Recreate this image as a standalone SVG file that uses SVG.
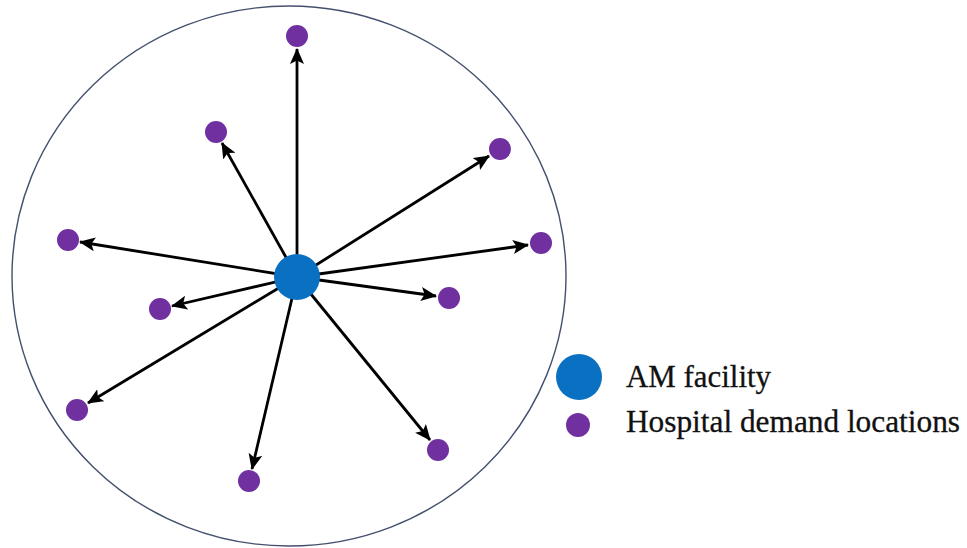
<svg xmlns="http://www.w3.org/2000/svg" width="967" height="548" viewBox="0 0 967 548">
  <style>
    .boundary { fill: none; stroke: #44506e; stroke-width: 1.4; }
    .facility { fill: #0a70c2; }
    .hospital { fill: #7030a0; }
    .link { stroke: #000; stroke-width: 2.8; fill: none; marker-end: url(#arrow); }
    .label { font-family: "Liberation Serif", "Times New Roman", serif; font-size: 31px; fill: #111; stroke: #111; stroke-width: 0.3; }
  </style>
  <defs>
    <marker id="arrow" markerUnits="userSpaceOnUse" markerWidth="18" markerHeight="16" refX="15" refY="7" orient="auto">
      <path d="M0,0 L16,7 L0,14 L3.5,7 Z" fill="#000"/>
    </marker>
  </defs>
  <rect width="967" height="548" fill="#fff"/>

  <!-- service region -->
  <ellipse class="boundary" cx="289" cy="276" rx="277" ry="270"/>

  <!-- connectors from the facility to each hospital -->
  <g id="connectors">
    <line class="link" x1="297" y1="277" x2="297" y2="49"/>
    <line class="link" x1="297" y1="277" x2="222" y2="143"/>
    <line class="link" x1="297" y1="277" x2="489" y2="156"/>
    <line class="link" x1="297" y1="277" x2="80" y2="242"/>
    <line class="link" x1="297" y1="277" x2="528" y2="245"/>
    <line class="link" x1="297" y1="277" x2="436" y2="296"/>
    <line class="link" x1="297" y1="277" x2="172" y2="306"/>
    <line class="link" x1="297" y1="277" x2="88" y2="403"/>
    <line class="link" x1="297" y1="277" x2="430" y2="440"/>
    <line class="link" x1="297" y1="277" x2="252" y2="469"/>
  </g>

  <!-- hospital demand locations -->
  <g id="h1"><circle class="hospital" cx="297" cy="36" r="11"/></g>
  <g id="h2"><circle class="hospital" cx="216" cy="132" r="11"/></g>
  <g id="h3"><circle class="hospital" cx="500" cy="149" r="11"/></g>
  <g id="h4"><circle class="hospital" cx="68" cy="240" r="11"/></g>
  <g id="h5"><circle class="hospital" cx="541" cy="243" r="11"/></g>
  <g id="h6"><circle class="hospital" cx="449" cy="298" r="11"/></g>
  <g id="h7"><circle class="hospital" cx="160" cy="309" r="11"/></g>
  <g id="h8"><circle class="hospital" cx="77" cy="410" r="11"/></g>
  <g id="h9"><circle class="hospital" cx="438" cy="450" r="11"/></g>
  <g id="h10"><circle class="hospital" cx="249" cy="481" r="11"/></g>

  <!-- AM facility -->
  <g id="facility"><circle class="facility" cx="297" cy="277" r="23"/></g>

  <!-- legend -->
  <g id="legend">
    <circle class="facility" cx="579" cy="377" r="23"/>
    <text class="label" x="626" y="387" textLength="145" lengthAdjust="spacingAndGlyphs">AM facility</text>
    <circle class="hospital" cx="578" cy="425" r="12"/>
    <text class="label" x="626" y="432" textLength="334" lengthAdjust="spacingAndGlyphs">Hospital demand locations</text>
  </g>
</svg>
